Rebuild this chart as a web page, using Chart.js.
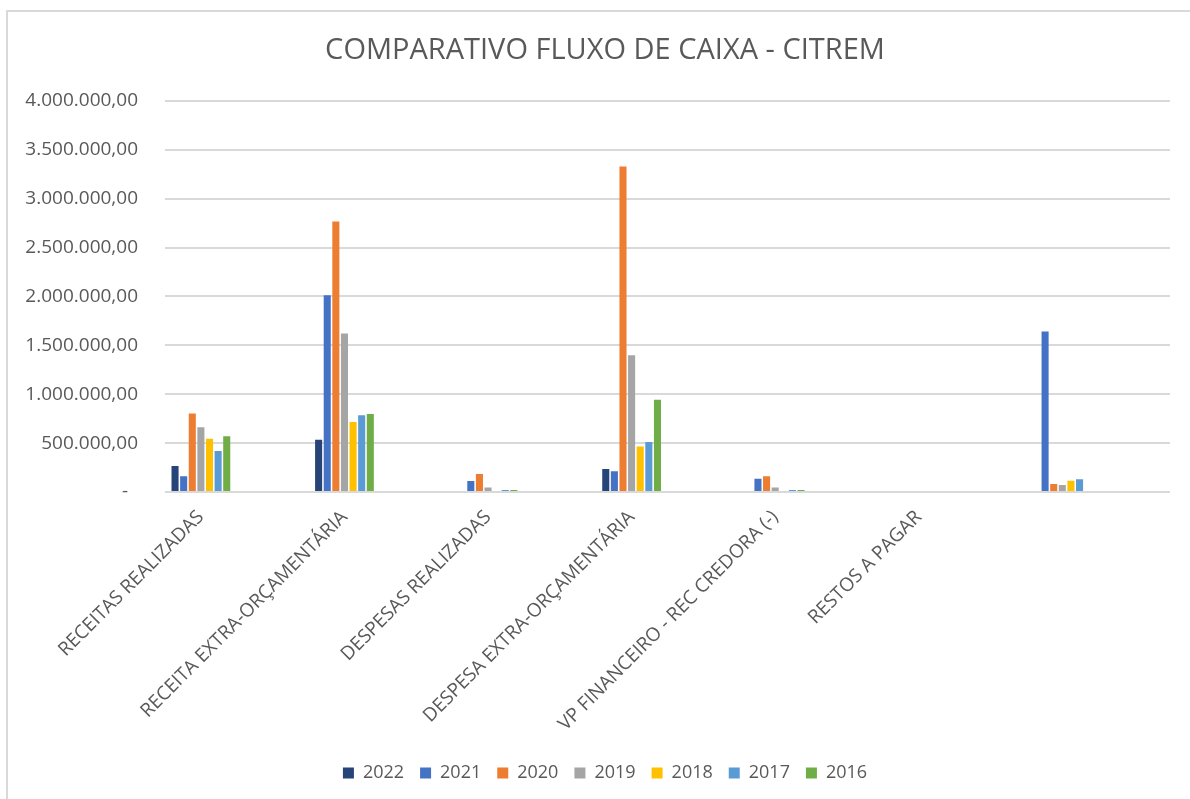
<!DOCTYPE html>
<html>
<head>
<meta charset="utf-8">
<script src="https://cdn.jsdelivr.net/npm/chart.js@4.4.1/dist/chart.umd.min.js"></script>
<style>
  html, body { margin: 0; padding: 0; background: #fff; overflow: hidden; }
  #frame {
    position: absolute; left: 6px; top: 10px;
    width: 1300px; height: 900px;
    border: 2px solid #d9d9d9;
  }
  #wrap { position: absolute; left: 0; top: 0; width: 1190px; height: 799px; }
</style>
</head>
<body>
<div id="frame"></div>
<div id="wrap"><canvas id="fluxo-chart" width="1190" height="799"></canvas></div>
<script>
const categories = [
  'RECEITAS REALIZADAS',
  'RECEITA EXTRA-ORÇAMENTÁRIA',
  'DESPESAS REALIZADAS',
  'DESPESA EXTRA-ORÇAMENTÁRIA',
  'VP FINANCEIRO - REC CREDORA (-)',
  'RESTOS A PAGAR',
  ''
];
const years = ['2022', '2021', '2020', '2019', '2018', '2017', '2016'];
const yearColors = ['#264478', '#4472C4', '#ED7D31', '#A5A5A5', '#FFC000', '#5B9BD5', '#70AD47'];

const values2022 = [265000, 533000, 0, 235000, 0, 0, 0];
const values2021 = [160000, 2012000, 112000, 211000, 136000, 0, 1640000];
const values2020 = [803000, 2767000, 184000, 3327000, 160000, 0, 82000];
const values2019 = [663000, 1620000, 45000, 1398000, 45000, 0, 71000];
const values2018 = [544000, 716000, 0, 466000, 0, 0, 115000];
const values2017 = [418000, 784000, 20000, 510000, 20000, 0, 130000];
const values2016 = [571000, 798000, 20000, 942000, 20000, 0, 0];

const seriesValues = [values2022, values2021, values2020, values2019, values2018, values2017, values2016];

const textColor = '#595959';
const fontFamily = '"Open Sans", sans-serif';

// 1234567 -> "1.234.567,00", zero shown as accounting dash
function formatBRL(value) {
  if (value === 0) {
    return '-  ';
  }
  const parts = value.toFixed(2).split('.');
  const intPart = parts[0].replace(/\B(?=(\d{3})+(?!\d))/g, '.');
  return intPart + ',' + parts[1];
}

function createDatasets() {
  return years.map(function (year, i) {
    return {
      label: year,
      data: seriesValues[i],
      backgroundColor: yearColors[i],
      borderWidth: 0,
      categoryPercentage: 0.42,
      barPercentage: 0.82,
    };
  });
}

// y labels stick out past the left padding, so let the axis box start at 0
const yLabelRoom = {
  id: 'yLabelRoom',
  afterLayout: function (chart) {
    chart.scales.y.left = 0;
  },
};

function createChartOptions() {
  return {
    responsive: false,
    animation: false,
    layout: {
      padding: { left: 40, right: 20, top: 0, bottom: 7 },
    },
    scales: {
      x: {
        grid: { display: false },
        border: { display: false },
        // the original sheet sits its clusters a quarter category to the left
        afterBuildTicks: function (scale) {
          scale._startValue = -0.25;
        },
        afterFit: function (scale) {
          scale.height = 256;
        },
        ticks: {
          autoSkip: false,
          maxRotation: 45,
          minRotation: 45,
          color: textColor,
          padding: 6,
          font: { family: fontFamily, size: 19 },
        },
      },
      y: {
        min: 0,
        max: 4000000,
        afterFit: function (scale) {
          scale.width = 125;
        },
        grid: {
          color: '#d9d9d9',
          lineWidth: 2,
          drawTicks: false,
        },
        border: { display: false },
        ticks: {
          stepSize: 500000,
          padding: 27,
          color: textColor,
          font: { family: fontFamily, size: 19 },
          callback: function (value) {
            return formatBRL(value);
          },
        },
      },
    },
    plugins: {
      title: {
        display: true,
        text: 'COMPARATIVO FLUXO DE CAIXA - CITREM',
        color: textColor,
        font: { family: fontFamily, size: 29, weight: 'normal' },
        padding: { top: 33, bottom: 33 },
      },
      legend: {
        position: 'bottom',
        labels: {
          color: textColor,
          boxWidth: 11,
          boxHeight: 11,
          padding: 16,
          font: { family: fontFamily, size: 18 },
        },
      },
      tooltip: { enabled: false },
    },
  };
}

const ctx = document.getElementById('fluxo-chart').getContext('2d');
new Chart(ctx, {
  type: 'bar',
  data: {
    labels: categories,
    datasets: createDatasets(),
  },
  options: createChartOptions(),
  plugins: [yLabelRoom],
});
</script>
</body>
</html>
